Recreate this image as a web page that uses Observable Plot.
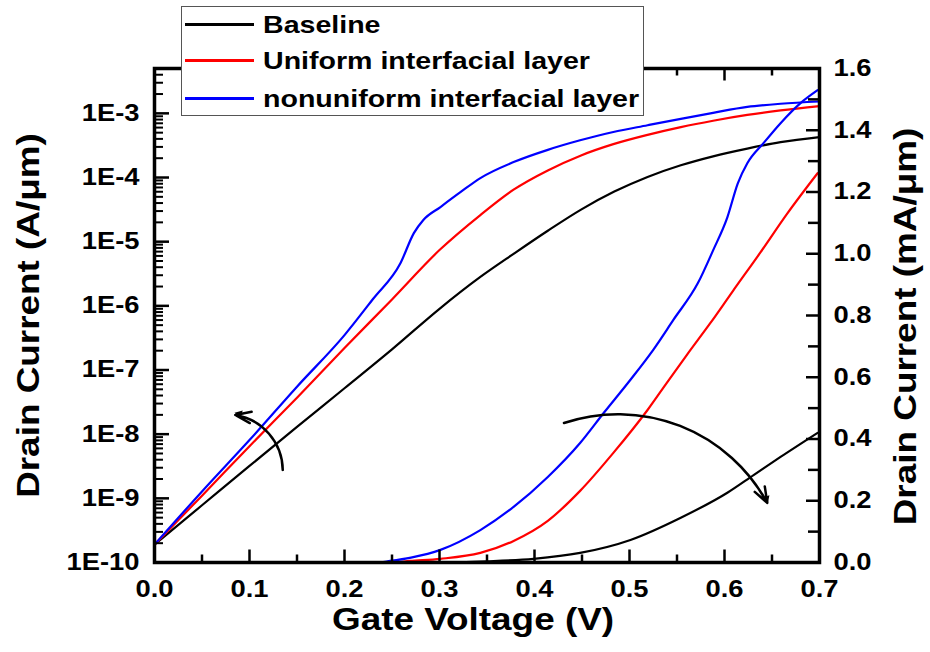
<!DOCTYPE html>
<html><head><meta charset="utf-8">
<script src="https://cdn.jsdelivr.net/npm/d3@7"></script>
<script src="https://cdn.jsdelivr.net/npm/@observablehq/plot@0.6"></script>
<style>
body{margin:0;background:#fff;}
#wrap{position:relative;width:930px;height:652px;font-family:"Liberation Sans",Arial,sans-serif;}
#wrap svg{position:absolute;left:0;top:0;}
#legend{position:absolute;left:181px;top:6px;width:461px;height:108px;border:1.5px solid #555;background:#fff;}
.sw{position:absolute;left:2.5px;width:69px;height:0;border-top:3px solid;}
.lab{position:absolute;left:80.5px;font-weight:bold;font-size:24px;transform:scaleX(1.19);transform-origin:0 50%;white-space:nowrap;line-height:1;color:#000;}
</style></head><body><div id="wrap"></div>
<script>
// ---- series ----
const seriesNames = ["Baseline", "Uniform interfacial layer", "nonuniform interfacial layer"];
const seriesColors = ["#000000", "#ff0000", "#0000ff"];

// ---- log view, left axis (A/μm) ----
const logVgBaseline = [0, 0.05, 0.1, 0.15, 0.2, 0.25, 0.3, 0.343, 0.378, 0.414, 0.449, 0.484, 0.519, 0.554, 0.588, 0.624, 0.659, 0.7];
const logIdBaseline = [1.9e-10, 7.8e-10, 3.2e-9, 1.3e-8, 5.2e-8, 2.1e-7, 9.0e-7, 2.82e-6, 6.46e-6, 1.48e-5, 3.16e-5, 6.03e-5, 1.02e-4, 1.55e-4, 2.14e-4, 2.82e-4, 3.55e-4, 4.27e-4];
const logVgUniform = [0, 0.05, 0.1, 0.15, 0.2, 0.25, 0.3, 0.343, 0.378, 0.414, 0.449, 0.483, 0.519, 0.554, 0.588, 0.624, 0.659, 0.7];
const logIdUniform = [1.9e-10, 1.1e-9, 6.5e-9, 3.7e-8, 2.2e-7, 1.26e-6, 7.4e-6, 2.6e-5, 6.46e-5, 1.29e-4, 2.21e-4, 3.31e-4, 4.62e-4, 6.1e-4, 7.67e-4, 9.44e-4, 1.11e-3, 1.30e-3];
const logVgNonuniform = [0, 0.05, 0.1, 0.15, 0.2, 0.23, 0.259, 0.273, 0.283, 0.301, 0.322, 0.343, 0.378, 0.414, 0.448, 0.483, 0.519, 0.554, 0.588, 0.624, 0.659, 0.7];
const logIdNonuniform = [1.9e-10, 1.28e-9, 8.1e-9, 5.5e-8, 3.5e-7, 1.28e-6, 4.66e-6, 1.36e-5, 2.18e-5, 3.47e-5, 5.9e-5, 9.8e-5, 1.74e-4, 2.7e-4, 3.8e-4, 5.13e-4, 6.53e-4, 8.22e-4, 1.02e-3, 1.26e-3, 1.41e-3, 1.53e-3];

// ---- linear view, right axis (mA/μm) ----
const linVgBaseline = [0, 0.3, 0.35, 0.399, 0.448, 0.501, 0.554, 0.603, 0.631, 0.659, 0.698];
const linIdBaseline = [0, 0, 0.004, 0.012, 0.031, 0.073, 0.145, 0.226, 0.284, 0.342, 0.42];
const linVgUniform = [0, 0.25, 0.269, 0.301, 0.343, 0.378, 0.414, 0.448, 0.483, 0.519, 0.54, 0.561, 0.585, 0.609, 0.638, 0.666, 0.698];
const linIdUniform = [0, 0, 0.005, 0.012, 0.031, 0.07, 0.135, 0.232, 0.355, 0.494, 0.585, 0.675, 0.775, 0.88, 1.005, 1.13, 1.261];
const linVgNonuniform = [0, 0.235, 0.248, 0.27, 0.301, 0.343, 0.378, 0.414, 0.448, 0.473, 0.501, 0.525, 0.546, 0.572, 0.588, 0.603, 0.614, 0.624, 0.641, 0.659, 0.68, 0.698];
const linIdNonuniform = [0, 0, 0.005, 0.016, 0.041, 0.105, 0.18, 0.277, 0.387, 0.485, 0.592, 0.689, 0.785, 0.905, 1.011, 1.118, 1.228, 1.293, 1.358, 1.423, 1.488, 1.53];

// ---- axes ----
const xTicks = [0, 0.1, 0.2, 0.3, 0.4, 0.5, 0.6, 0.7];
const xTickLabels = ["0.0", "0.1", "0.2", "0.3", "0.4", "0.5", "0.6", "0.7"];
const xMinor = [0.05, 0.15, 0.25, 0.35, 0.45, 0.55, 0.65];
const logTicks = [1e-10, 1e-9, 1e-8, 1e-7, 1e-6, 1e-5, 1e-4, 1e-3];
const logTickLabels = ["1E-10", "1E-9", "1E-8", "1E-7", "1E-6", "1E-5", "1E-4", "1E-3"];
const logMinorFactors = [2, 3, 4, 5, 6, 7, 8, 9];
const linTicks = [0, 0.2, 0.4, 0.6, 0.8, 1.0, 1.2, 1.4, 1.6];
const linTickLabels = ["0.0", "0.2", "0.4", "0.6", "0.8", "1.0", "1.2", "1.4", "1.6"];
const linMinor = [0.1, 0.3, 0.5, 0.7, 0.9, 1.1, 1.3, 1.5];
const xTitle = "Gate Voltage (V)";
const yLeftTitle = "Drain Current (A/μm)";
const yRightTitle = "Drain Current (mA/μm)";

// ---- annotation arrows (V, mA/μm) ----
const arrowX1 = [0.135, 0.431];
const arrowY1 = [0.30, 0.452];
const arrowX2 = [0.085, 0.645];
const arrowY2 = [0.478, 0.193];
const arrowBend = [-40, 40];
const arrowHeadRotate = [-75, 160];
const arrowHeadDx = [4, -1];
const arrowHeadDy = [-1, -4];

// ---- build tables ----
const zip = (vs, is) => vs.map((v, k) => ({v, i: is[k]}));
const logData = [zip(logVgBaseline, logIdBaseline), zip(logVgUniform, logIdUniform), zip(logVgNonuniform, logIdNonuniform)];
const linData = [zip(linVgBaseline, linIdBaseline), zip(linVgUniform, linIdUniform), zip(linVgNonuniform, linIdNonuniform)];
const logMinor = [];
for (const t of logTicks) for (const f of logMinorFactors) { const m = t * f; if (m <= 5e-3) logMinor.push(m); }

const W = 930, H = 652, mL = 154, mR = 111, mT = 68, mB = 90;
const pxPerV = (W - mL - mR) / 0.7;
const pxPerMA = (H - mT - mB) / 1.6;
const font = {fontFamily: '"Liberation Sans", Arial, sans-serif', fontWeight: "bold", fill: "black"};
const common = {width: W, height: H, marginLeft: mL, marginRight: mR, marginTop: mT, marginBottom: mB,
  x: {domain: [0, 0.7], axis: null}, style: {background: "transparent", overflow: "visible"}};

const logPlot = Plot.plot({
  ...common,
  y: {type: "log", domain: [1e-10, 5e-3], axis: null},
  marks: [
    ...logData.map((d, k) => Plot.line(d, {x: "v", y: "i", stroke: seriesColors[k], strokeWidth: 2.2, curve: "monotone-x"})),
    Plot.ruleY(logMinor, {y: d => d, x1: 0, x2: 9 / pxPerV, stroke: "black", strokeWidth: 2}),
    Plot.ruleY(logTicks, {y: d => d, x1: 0, x2: 15 / pxPerV, stroke: "black", strokeWidth: 2.5}),
    Plot.text(logTicks, {x: 0, y: d => d, text: (d, k) => logTickLabels[k], textAnchor: "end", dx: -15, fontSize: 23, ...font}),
    Plot.text([yLeftTitle], {frameAnchor: "left", textAnchor: "middle", text: d => d, rotate: -90, dx: -125, fontSize: 31, ...font})
  ]
});

const linPlot = Plot.plot({
  ...common,
  y: {domain: [0, 1.6], axis: null},
  marks: [
    ...linData.map((d, k) => Plot.line(d, {x: "v", y: "i", stroke: seriesColors[k], strokeWidth: 2.2, curve: "monotone-x"})),
    Plot.ruleY(linMinor, {y: d => d, x1: 0.7 - 11 / pxPerV, x2: 0.7, stroke: "black", strokeWidth: 2.5}),
    Plot.ruleY(linTicks, {y: d => d, x1: 0.7 - 13 / pxPerV, x2: 0.7, stroke: "black", strokeWidth: 2.5}),
    Plot.ruleX(xMinor, {x: d => d, y1: 0, y2: 7.5 / pxPerMA, stroke: "black", strokeWidth: 2.5}),
    Plot.ruleX(xTicks, {x: d => d, y1: 0, y2: 12.5 / pxPerMA, stroke: "black", strokeWidth: 2.5}),
    Plot.ruleX(xMinor, {x: d => d, y1: 1.6, y2: 1.6 - 7.5 / pxPerMA, stroke: "black", strokeWidth: 2.5}),
    Plot.ruleX(xTicks, {x: d => d, y1: 1.6, y2: 1.6 - 12.5 / pxPerMA, stroke: "black", strokeWidth: 2.5}),
    Plot.frame({stroke: "black", strokeWidth: 3.5}),
    Plot.text(linTicks, {x: 0.7, y: d => d, text: (d, k) => linTickLabels[k], textAnchor: "start", dx: 14, fontSize: 23, ...font}),
    Plot.text(xTicks, {x: d => d, y: 0, text: (d, k) => xTickLabels[k], dy: 27, fontSize: 23, ...font}),
    Plot.text([xTitle], {frameAnchor: "bottom", textAnchor: "middle", text: d => d, dx: -14, dy: 67, fontSize: 31, ...font}),
    Plot.text([yRightTitle], {frameAnchor: "right", textAnchor: "middle", text: d => d, rotate: -90, dx: 87, dy: 11, fontSize: 31, ...font}),
    ...arrowX1.map((_, k) => Plot.arrow([k], {x1: i => arrowX1[i], y1: i => arrowY1[i], x2: i => arrowX2[i], y2: i => arrowY2[i],
      bend: arrowBend[k], stroke: "black", strokeWidth: 2.5, headLength: 10, headAngle: 40})),
    ...arrowX2.map((_, k) => Plot.dot([k], {x: i => arrowX2[i], y: i => arrowY2[i], symbol: "triangle2", r: 4,
      rotate: arrowHeadRotate[k], dx: arrowHeadDx[k], dy: arrowHeadDy[k], fill: "black", stroke: "none"}))
  ]
});

function stretch(svg, k) {
  svg.querySelectorAll("text").forEach(t => {
    const tr = t.getAttribute("transform");
    if (tr) t.setAttribute("transform", tr + ` scale(${k},1)`);
    else {
      const x = +t.getAttribute("x") || 0, y = +t.getAttribute("y") || 0;
      t.removeAttribute("x"); t.removeAttribute("y");
      t.setAttribute("transform", `translate(${x},${y}) scale(${k},1)`);
    }
  });
}
stretch(logPlot, 1.19);
stretch(linPlot, 1.19);

const wrap = document.getElementById("wrap");
wrap.appendChild(logPlot);
wrap.appendChild(linPlot);

// legend
const legend = document.createElement("div");
legend.id = "legend";
const rowY = [17.5, 53.5, 91.5];
seriesNames.forEach((name, k) => {
  const sw = document.createElement("div");
  sw.className = "sw";
  sw.style.top = (rowY[k] - 1.5) + "px";
  sw.style.borderTopColor = seriesColors[k];
  const lab = document.createElement("div");
  lab.className = "lab";
  lab.style.top = (rowY[k] - 12) + "px";
  lab.textContent = name;
  legend.appendChild(sw);
  legend.appendChild(lab);
});
wrap.appendChild(legend);
</script></body></html>
